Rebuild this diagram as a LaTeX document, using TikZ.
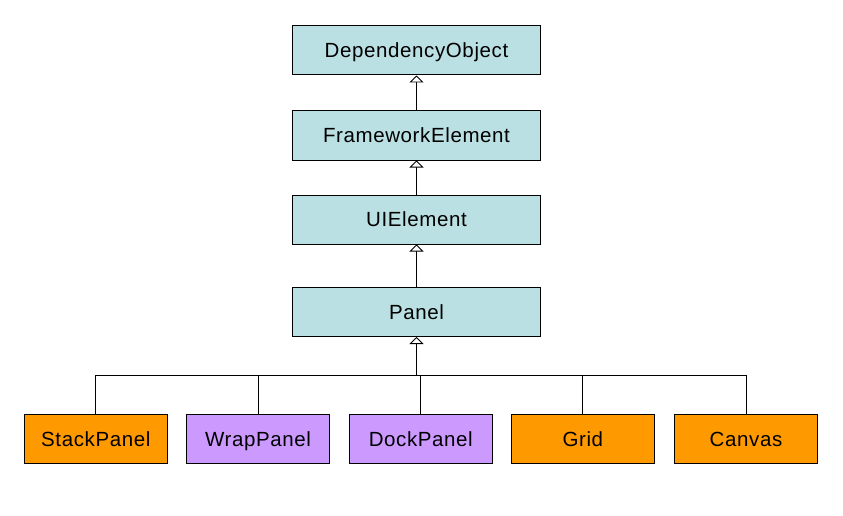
\documentclass[tikz,border=0pt]{standalone}
\usepackage{fontspec}
\setmainfont{Liberation Sans}[LetterSpace=3]
\usetikzlibrary{arrows.meta}
\definecolor{clsblue}{HTML}{BBE0E3}
\definecolor{clsorange}{HTML}{FF9900}
\definecolor{clspurple}{HTML}{CC99FF}
\begin{document}
\begin{tikzpicture}[x=1pt,y=-1pt,
  base/.style={draw=black, line width=1pt, inner sep=0pt, text height=14.8pt, text depth=0pt,
    font=\fontsize{20.5}{24}\selectfont},
  topbox/.style={base, fill=clsblue, minimum width=248pt, minimum height=49pt},
  leafo/.style={base, fill=clsorange, minimum width=143pt, minimum height=49pt},
  leafp/.style={base, fill=clspurple, minimum width=143pt, minimum height=49pt},
  link/.style={line width=1pt, draw=black},
  inherit/.style={link, -{Triangle[open, length=7pt, width=14pt, fill=white, line width=0.8pt]}}
]
\useasboundingbox (0,0) rectangle (843,516);
\node[topbox] (dep) at (416.5,50.5) {DependencyObject};
\node[topbox] (fw) at (416.5,135.5) {FrameworkElement};
\node[topbox] (ui) at (416.5,219.5) {UIElement};
\node[topbox] (panel) at (416.5,312) {Panel};
\node[leafo] (stack) at (95.8,438.8) {StackPanel};
\node[leafp] (wrap) at (258,438.8) {WrapPanel};
\node[leafp] (dock) at (420.8,438.8) {DockPanel};
\node[leafo] (grid) at (582.8,438.8) {Grid};
\node[leafo] (canvas) at (746,438.8) {Canvas};
\coordinate (hub) at (416.5,375.5);
\draw[inherit] (fw.north) -- (dep.south);
\draw[inherit] (ui.north) -- (fw.south);
\draw[inherit] (panel.north) -- (ui.south);
\draw[inherit] (hub) -- (panel.south);
\draw[link] (stack.north) -- (stack.north |- hub) -- (canvas.north |- hub) -- (canvas.north);
\draw[link] (wrap.north) -- (wrap.north |- hub);
\draw[link] (dock.north) -- (dock.north |- hub);
\draw[link] (grid.north) -- (grid.north |- hub);
\end{tikzpicture}
\end{document}
